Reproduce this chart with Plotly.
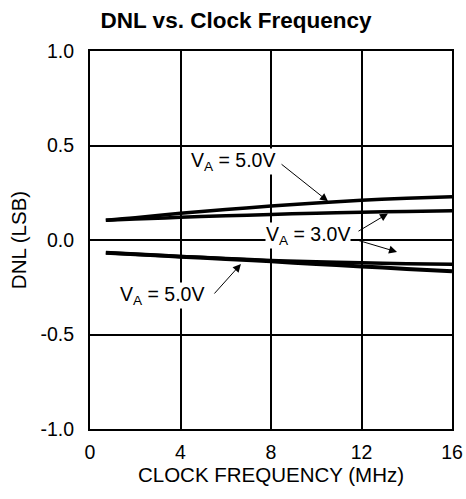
import plotly.graph_objects as go

freq = [0.7, 2, 4, 6, 8, 10, 12, 14, 16]
dnl_5v_pos = [0.105, 0.118, 0.141, 0.161, 0.180, 0.196, 0.210, 0.221, 0.229]
dnl_3v_pos = [0.105, 0.111, 0.120, 0.128, 0.135, 0.142, 0.147, 0.151, 0.155]
dnl_3v_neg = [-0.067, -0.075, -0.087, -0.098, -0.108, -0.115, -0.120, -0.125, -0.128]
dnl_5v_neg = [-0.067, -0.075, -0.088, -0.100, -0.113, -0.127, -0.140, -0.153, -0.165]

x_ticks = [0, 4, 8, 12, 16]
y_ticks = [-1.0, -0.5, 0.0, 0.5, 1.0]

font = "Liberation Sans, Arial, sans-serif"

fig = go.Figure()
for ys, w in [(dnl_5v_pos, 3.5), (dnl_3v_pos, 3.5), (dnl_3v_neg, 3.5), (dnl_5v_neg, 4)]:
    fig.add_trace(go.Scatter(x=freq, y=ys, mode="lines",
                             line=dict(color="black", width=w, shape="spline"),
                             showlegend=False, hoverinfo="skip"))

labels = [
    ("V<sub>A</sub> = 5.0V", 6.32, 0.413),
    ("V<sub>A</sub> = 3.0V", 9.64, 0.026),
    ("V<sub>A</sub> = 5.0V", 3.18, -0.291),
]
for t, x, y in labels:
    fig.add_annotation(x=x, y=y, text=t, showarrow=False, bgcolor="white",
                       font=dict(size=19.5, color="black", family=font), borderpad=0)

arrows = [
    (8.4, 0.407, 10.52, 0.205),
    (11.8, 0.042, 13.17, 0.140),
    (11.8, 0.0, 13.57, -0.063),
    (5.44, -0.291, 6.67, -0.127),
]
for ax, ay, x, y in arrows:
    fig.add_annotation(x=x, y=y, ax=ax, ay=ay, axref="x", ayref="y", text="",
                       showarrow=True, arrowhead=2, arrowsize=1.6, arrowwidth=1,
                       arrowcolor="black")

fig.update_layout(
    width=466, height=499,
    margin=dict(l=90, r=14, t=51, b=70, autoexpand=False),
    paper_bgcolor="white", plot_bgcolor="white",
    font=dict(family=font, size=19, color="black"),
    title=dict(text="<b>DNL vs. Clock Frequency</b>", x=236 / 466, xanchor="center",
               y=1 - 20 / 499, yanchor="middle", font=dict(size=22.5, family=font)),
)
fig.update_xaxes(range=[0, 16], tickvals=x_ticks, ticktext=[str(v) for v in x_ticks],
                 showgrid=True, gridcolor="black", gridwidth=1.5, zeroline=False,
                 showline=True, linecolor="black", linewidth=2, mirror=True,
                 ticks="", ticklabelstandoff=5,
                 title=dict(text="CLOCK FREQUENCY (MHz)", standoff=4, font=dict(size=20.5)),
                 tickfont=dict(size=19.5))
fig.update_yaxes(range=[-1, 1], tickvals=y_ticks, ticktext=[f"{v:.1f}" for v in y_ticks],
                 showgrid=True, gridcolor="black", gridwidth=1.5, zeroline=False,
                 showline=True, linecolor="black", linewidth=2, mirror=True,
                 ticks="", ticklabelstandoff=10,
                 title=dict(text="DNL (LSB)", standoff=8, font=dict(size=20.5)),
                 tickfont=dict(size=19.5))

fig.write_html("out.html", config={"displayModeBar": False},
               post_script="document.body.style.margin='0';document.body.style.overflow='hidden';")
